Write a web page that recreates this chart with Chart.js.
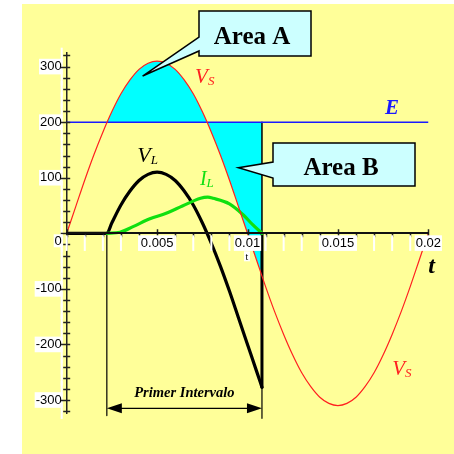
<!DOCTYPE html>
<html>
<head>
<meta charset="utf-8">
<script src="https://cdn.jsdelivr.net/npm/chart.js@4.4.1/dist/chart.umd.min.js"></script>
<style>
html, body { margin: 0; padding: 0; background: #fff; }
canvas { display: block; }
</style>
</head>
<body>
<canvas id="chart" width="454" height="454"></canvas>
<script>
// Time axis (s), one cycle sampled every 0.5 ms
const timeSteps = [0, 0.0005, 0.001, 0.0015, 0.002, 0.0025, 0.003, 0.0035, 0.004, 0.0045,
    0.005, 0.0055, 0.006, 0.0065, 0.007, 0.0075, 0.008, 0.0085, 0.009, 0.0095,
    0.01, 0.0105, 0.011, 0.0115, 0.012, 0.0125, 0.013, 0.0135, 0.014, 0.0145,
    0.015, 0.0155, 0.016, 0.0165, 0.017, 0.0175, 0.018, 0.0185, 0.019, 0.0195, 0.02];

// Source voltage Vs
const vsValues = [0, 48, 96, 141, 182, 219, 251, 276, 295, 306,
    310, 306, 295, 276, 251, 219, 182, 141, 96, 48,
    0, -48, -96, -141, -182, -219, -251, -276, -295, -306,
    -310, -306, -295, -276, -251, -219, -182, -141, -96, -48, 0];

// Battery voltage E
const sourceE = 200;

// Conduction interval: start (Vs = E) and cut-off
const intervalStart = 0.00222;
const intervalEnd = 0.0108;

// Load voltage VL
const vlTimes = [0, 0.00222, 0.0025, 0.003, 0.0035, 0.004, 0.0045, 0.005, 0.0055, 0.006,
    0.0065, 0.007, 0.0075, 0.008, 0.0085, 0.009, 0.0095, 0.01, 0.0105, 0.0108];
const vlValues = [0, 0, 19, 51, 76, 95, 106, 110, 106, 95,
    76, 51, 19, -18, -59, -104, -152, -200, -248, -277];

// Load current IL
const ilTimes = [0.00222, 0.00295, 0.00367, 0.0046, 0.0055, 0.0064, 0.0074, 0.0078, 0.0081,
    0.009, 0.00977, 0.0103, 0.0108];
const ilValues = [0, 2, 12, 26, 36, 49, 63, 65, 63, 53, 33, 15, 0];

// Vs below E up to the cut-off (area B)
const areaBTimes = [0.00778, 0.008, 0.0085, 0.009, 0.0095, 0.01, 0.0105, 0.0108];
const areaBValues = [200, 182, 141, 96, 48, 0, -48, -77];

// Depth of the interval marker lines and the arrow level
const markerStartDepth = -328;
const markerEndDepth = -333;
const arrowLevel = -315;

const xMajor = [0, 0.005, 0.01, 0.015, 0.02];
const yMajor = [-300, -200, -100, 0, 100, 200, 300];

const RED = '#ff2020';
const BLUE = '#1a1aff';
const GREEN = '#10e010';
const CYAN = '#00ffff';
const BOX = '#ccffff';
const SERIF = '"Liberation Serif", "Times New Roman", serif';
const SANS = '"Liberation Sans", Arial, sans-serif';

const zip = (xs, ys) => xs.map((x, i) => ({ x: x, y: ys[i] }));

// Text labels placed in data coordinates
const curveLabels = [
    { main: 'V', sub: 'S', t: 0.0071, v: 270, size: 21, color: RED },
    { main: 'V', sub: 'S', t: 0.018, v: -255, size: 21, color: RED },
    { main: 'V', sub: 'L', t: 0.0039, v: 128, size: 22, color: '#000' },
    { main: 'I', sub: 'L', t: 0.00737, v: 87, size: 20, color: GREEN }
];

const callouts = [
    { text: 'Area A', box: [199, 11, 112, 45], base: [37, 51], tip: [0.0042, 283], baseline: 44 },
    { text: 'Area B', box: [273, 143, 142, 43], base: [162, 178], tip: [0.0095, 118], baseline: 175 }
];

const backgroundPlugin = {
    id: 'background',
    beforeDraw(chart) {
        const ctx = chart.ctx;
        ctx.save();
        ctx.fillStyle = '#ffff99';
        ctx.fillRect(22, 4, 432, 450);
        ctx.restore();
    }
};

// Small tick marks crossing the axes
const crossTicks = {
    id: 'crossTicks',
    afterDatasetsDraw(chart) {
        const { ctx, scales: { x, y } } = chart;
        const ax = x.getPixelForValue(0);
        const ay = y.getPixelForValue(0);
        ctx.save();
        ctx.strokeStyle = '#222';
        ctx.lineWidth = 1.5;
        ctx.beginPath();
        y.ticks.forEach(tk => {
            const py = Math.round(y.getPixelForValue(tk.value)) + 0.5;
            const major = yMajor.includes(tk.value);
            ctx.moveTo(ax - (major ? 6 : 3.5), py);
            ctx.lineTo(ax + 3.5, py);
        });
        x.ticks.forEach(tk => {
            const px = Math.round(x.getPixelForValue(tk.value)) + 0.5;
            const major = xMajor.some(m => Math.abs(m - tk.value) < 1e-6);
            ctx.moveTo(px, ay - (major ? 4 : 0));
            ctx.lineTo(px, ay + 4);
        });
        ctx.stroke();
        ctx.restore();
    }
};

function drawSubLabel(ctx, px, py, l) {
    ctx.fillStyle = l.color;
    ctx.textAlign = 'left';
    ctx.textBaseline = 'alphabetic';
    ctx.font = 'italic ' + l.size + 'px ' + SERIF;
    ctx.fillText(l.main, px, py);
    const w = ctx.measureText(l.main).width;
    ctx.font = 'italic 13px ' + SERIF;
    ctx.fillText(l.sub, px + w, py + 2);
}

const annotations = {
    id: 'annotations',
    afterDatasetsDraw(chart) {
        const { ctx, scales: { x, y } } = chart;
        ctx.save();

        curveLabels.forEach(l => {
            drawSubLabel(ctx, x.getPixelForValue(l.t), y.getPixelForValue(l.v), l);
        });

        // E and t
        ctx.fillStyle = BLUE;
        ctx.font = 'italic bold 21px ' + SERIF;
        ctx.textAlign = 'left';
        ctx.fillText('E', x.getPixelForValue(0.0176), y.getPixelForValue(215));
        ctx.fillStyle = '#000';
        ctx.font = 'italic bold 24px ' + SERIF;
        ctx.fillText('t', x.getPixelForValue(0.02), y.getPixelForValue(-71));

        // "0" at the origin and the small t under the cut-off
        const ox = x.getPixelForValue(0);
        const oy = y.getPixelForValue(0);
        ctx.font = '13px ' + SANS;
        ctx.textAlign = 'center';
        ctx.textBaseline = 'middle';
        ctx.fillStyle = '#fff';
        ctx.fillRect(ox - 13, oy + 1, 9, 13);
        ctx.fillStyle = '#000';
        ctx.fillText('0', ox - 8.5, oy + 8);
        const tx = x.getPixelForValue(intervalEnd) - 15;
        ctx.fillStyle = '#fff';
        ctx.fillRect(tx - 3, oy + 18, 6, 10);
        ctx.fillStyle = '#000';
        ctx.font = '10px ' + SERIF;
        ctx.fillText('t', tx, oy + 24);

        // Primer Intervalo arrow
        const x1 = x.getPixelForValue(intervalStart);
        const x2 = x.getPixelForValue(intervalEnd);
        const ay = y.getPixelForValue(arrowLevel);
        ctx.strokeStyle = '#000';
        ctx.lineWidth = 1.3;
        ctx.beginPath();
        ctx.moveTo(x1 + 10, ay);
        ctx.lineTo(x2 - 10, ay);
        ctx.stroke();
        ctx.beginPath();
        ctx.moveTo(x1, ay); ctx.lineTo(x1 + 15, ay - 5); ctx.lineTo(x1 + 15, ay + 5); ctx.closePath();
        ctx.moveTo(x2, ay); ctx.lineTo(x2 - 15, ay - 5); ctx.lineTo(x2 - 15, ay + 5); ctx.closePath();
        ctx.fill();
        ctx.font = 'italic bold 14.5px ' + SERIF;
        ctx.textAlign = 'center';
        ctx.textBaseline = 'alphabetic';
        ctx.fillText('Primer Intervalo', (x1 + x2) / 2, ay - 11);

        // Callout boxes
        callouts.forEach(c => {
            const [bx, by, bw, bh] = c.box;
            const tipX = x.getPixelForValue(c.tip[0]);
            const tipY = y.getPixelForValue(c.tip[1]);
            ctx.beginPath();
            ctx.moveTo(bx, by);
            ctx.lineTo(bx + bw, by);
            ctx.lineTo(bx + bw, by + bh);
            ctx.lineTo(bx, by + bh);
            ctx.lineTo(bx, c.base[1]);
            ctx.lineTo(tipX, tipY);
            ctx.lineTo(bx, c.base[0]);
            ctx.closePath();
            ctx.fillStyle = BOX;
            ctx.fill();
            ctx.lineWidth = 1.5;
            ctx.strokeStyle = '#000';
            ctx.stroke();
            ctx.fillStyle = '#000';
            ctx.font = 'bold 25px ' + SERIF;
            ctx.textAlign = 'center';
            ctx.fillText(c.text, bx + bw / 2 - 3, c.baseline);
        });

        ctx.restore();
    }
};

const lineStyle = { pointRadius: 0, fill: false, borderJoinStyle: 'round', borderCapStyle: 'round' };

new Chart(document.getElementById('chart'), {
    type: 'line',
    data: {
        datasets: [
            Object.assign({}, lineStyle, {
                label: 'Vs',
                data: zip(timeSteps, vsValues),
                borderColor: RED,
                borderWidth: 1.2,
                cubicInterpolationMode: 'monotone',
                fill: { target: { value: sourceE }, above: CYAN, below: 'transparent' }
            }),
            Object.assign({}, lineStyle, {
                label: 'Area B',
                data: zip(areaBTimes, areaBValues),
                borderWidth: 0,
                borderColor: 'transparent',
                cubicInterpolationMode: 'monotone',
                fill: { target: { value: sourceE }, above: 'transparent', below: CYAN }
            }),
            Object.assign({}, lineStyle, {
                label: 'E',
                data: zip([0, 0.02], [sourceE, sourceE]),
                borderColor: BLUE,
                borderWidth: 1.5
            }),
            Object.assign({}, lineStyle, {
                label: 'IL',
                data: zip(ilTimes, ilValues),
                borderColor: GREEN,
                borderWidth: 3.2,
                cubicInterpolationMode: 'monotone'
            }),
            Object.assign({}, lineStyle, {
                label: 'VL',
                data: zip(vlTimes, vlValues),
                borderColor: '#000',
                borderWidth: 3.2,
                cubicInterpolationMode: 'monotone'
            }),
            Object.assign({}, lineStyle, {
                label: 'VL cut-off',
                data: zip([intervalEnd, intervalEnd], [vlValues[vlValues.length - 1], 0]),
                borderColor: '#000',
                borderWidth: 3
            }),
            Object.assign({}, lineStyle, {
                label: 'cut-off',
                data: zip([intervalEnd, intervalEnd], [0, sourceE]),
                borderColor: '#000',
                borderWidth: 1.5
            }),
            Object.assign({}, lineStyle, {
                label: 'start marker',
                data: zip([intervalStart, intervalStart], [0, markerStartDepth]),
                borderColor: '#000',
                borderWidth: 1.2,
                clip: false
            }),
            Object.assign({}, lineStyle, {
                label: 'end marker',
                data: zip([intervalEnd, intervalEnd], [vlValues[vlValues.length - 1], markerEndDepth]),
                borderColor: '#000',
                borderWidth: 1.2,
                clip: false
            })
        ]
    },
    options: {
        responsive: false,
        animation: false,
        events: [],
        layout: { padding: { left: 0, right: 25.7, top: 52.7, bottom: 40.1 } },
        plugins: {
            legend: { display: false },
            tooltip: { enabled: false },
            filler: { drawTime: 'beforeDatasetsDraw' }
        },
        scales: {
            x: {
                type: 'linear',
                position: { y: 0 },
                min: 0,
                max: 0.02,
                afterFit: s => { s.height = 0; },
                grid: { display: false, drawTicks: false },
                border: { display: true, color: '#111', width: 2, z: 1 },
                ticks: {
                    stepSize: 0.001,
                    autoSkip: false,
                    maxRotation: 0,
                    includeBounds: false,
                    padding: 2,
                    z: 1,
                    color: '#000',
                    font: { family: SANS, size: 13 },
                    showLabelBackdrop: true,
                    backdropColor: '#fff',
                    backdropPadding: { x: 1, y: 0 },
                    callback: v => {
                        const m = xMajor.find(t => t !== 0 && Math.abs(t - v) < 1e-6);
                        return m === undefined ? '' : String(m);
                    }
                }
            },
            y: {
                type: 'linear',
                position: 'left',
                min: -325,
                max: 325,
                afterFit: s => { s.width = 66.7; },
                grid: { display: false, drawTicks: false },
                border: { display: true, color: '#222', width: 1.5 },
                ticks: {
                    stepSize: 20,
                    autoSkip: false,
                    includeBounds: false,
                    padding: 5,
                    color: '#000',
                    font: { family: SANS, size: 13 },
                    showLabelBackdrop: true,
                    backdropColor: '#fff',
                    backdropPadding: { x: 1, y: 0 },
                    callback: v => (yMajor.includes(v) && v !== 0 ? String(v) : '')
                }
            }
        }
    },
    plugins: [backgroundPlugin, crossTicks, annotations]
});
</script>
</body>
</html>
